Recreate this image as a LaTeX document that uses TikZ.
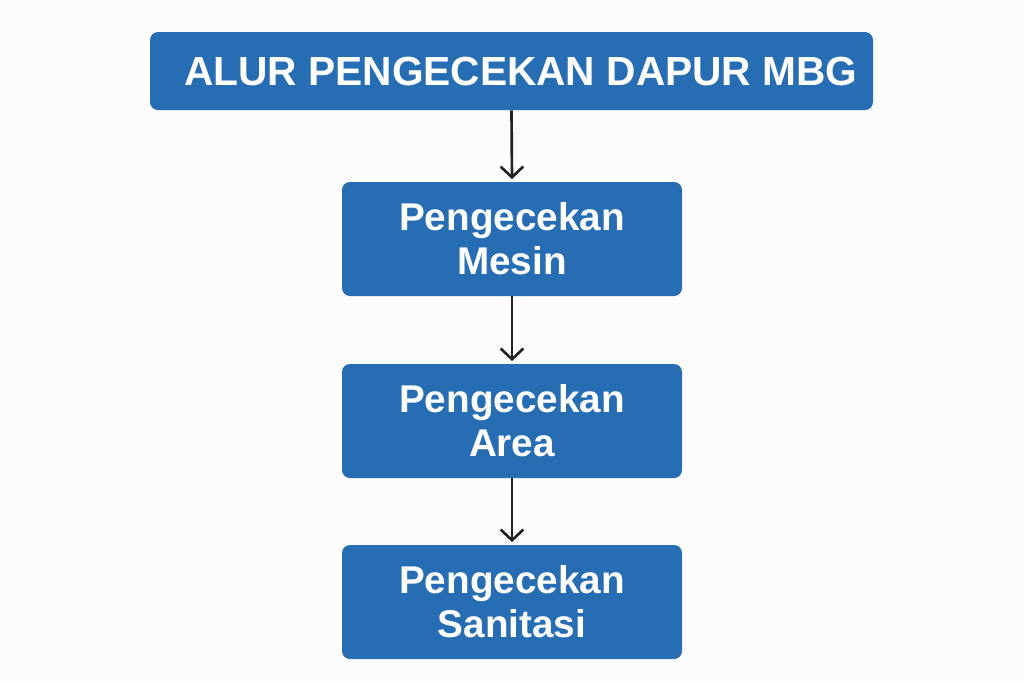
\documentclass[tikz,border=0pt]{standalone}
\usepackage{fontspec}
\setmainfont{Liberation Sans}
\usetikzlibrary{arrows.meta, positioning}

\definecolor{boxblue}{HTML}{276DB3}
\definecolor{arrowgray}{HTML}{222222}
\definecolor{bgwhite}{HTML}{FCFCFC}

\tikzset{
    stepbox/.style={rectangle, rounded corners=6pt, fill=boxblue, text=white,
        align=center, minimum width=255pt, minimum height=85.5pt,
        font=\fontsize{29}{33}\selectfont\bfseries},
    titlebox/.style={rectangle, rounded corners=6pt, fill=boxblue, text=white,
        minimum width=542.25pt, minimum height=58.5pt,
        font=\fontsize{30.5}{34}\selectfont\bfseries},
    flow/.style={-{Straight Barb[length=8pt, width=17pt, line width=2pt]},
        line width=2pt, color=arrowgray}
}

\begin{document}
\begin{tikzpicture}[x=0.75pt, y=-0.75pt]
    \fill[bgwhite] (0,0) rectangle (1024,683);
    \useasboundingbox (0,0) rectangle (1024,683);

    \node[titlebox] (judul) at (511.5,71) {\hspace*{14pt}ALUR PENGECEKAN DAPUR MBG};

    \node[stepbox] (mesin)    at (512,239) {Pengecekan\\Mesin};
    \node[stepbox] (area)     at (512,421) {Pengecekan\\Area};
    \node[stepbox] (sanitasi) at (512,602) {Pengecekan\\Sanitasi};

    \draw[flow] (judul.south) -- ([yshift=2pt]mesin.north);
    \draw[flow] (mesin.south) -- ([yshift=2pt]area.north);
    \draw[flow] (area.south) -- ([yshift=2pt]sanitasi.north);
\end{tikzpicture}
\end{document}
